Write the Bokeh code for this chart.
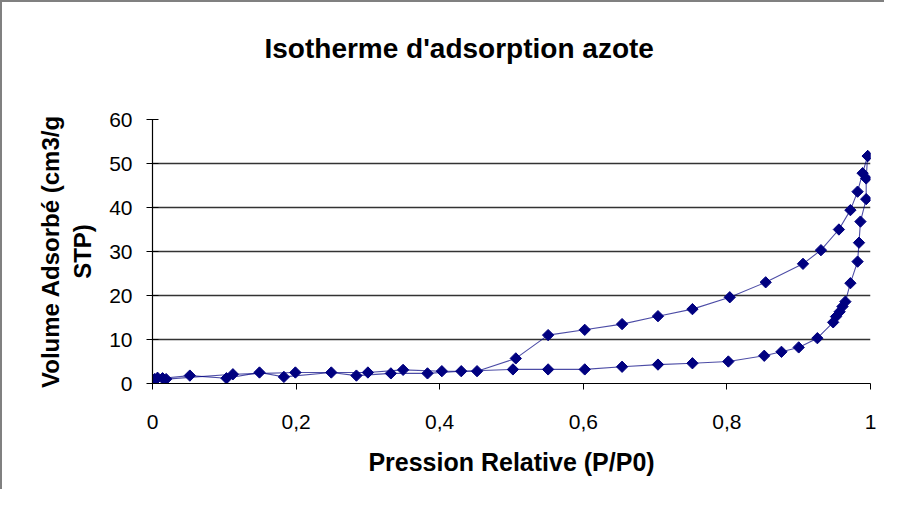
import numpy as np
from bokeh.plotting import figure
from bokeh.models import FixedTicker, Range1d
from bokeh.embed import file_html
from bokeh.resources import INLINE

# Adsorption branch (P/P0, volume cm3/g STP)
ads_p = [0.003, 0.007, 0.014, 0.052, 0.103, 0.149, 0.183, 0.249, 0.284, 0.332,
         0.383, 0.430, 0.502, 0.551, 0.602, 0.654, 0.704, 0.752, 0.802, 0.852,
         0.876, 0.900, 0.926, 0.948, 0.952, 0.957, 0.961, 0.965, 0.972, 0.982,
         0.984, 0.986, 0.994, 0.994, 0.996]
ads_v = [1.0, 1.3, 1.2, 1.8, 1.2, 2.5, 1.5, 2.5, 1.8, 2.3,
         2.3, 2.8, 3.2, 3.2, 3.2, 3.8, 4.3, 4.6, 5.0, 6.3,
         7.2, 8.2, 10.3, 13.9, 15.2, 16.3, 17.5, 18.6, 22.8, 27.7,
         32.0, 36.8, 41.9, 46.6, 51.7]

# Desorption branch
des_p = [0.996, 0.989, 0.982, 0.972, 0.956, 0.931, 0.906, 0.854, 0.804, 0.752,
         0.704, 0.654, 0.602, 0.551, 0.506, 0.452, 0.403, 0.349, 0.300, 0.199,
         0.112, 0.019]
des_v = [51.7, 47.8, 43.6, 39.4, 35.0, 30.3, 27.2, 23.0, 19.6, 16.9,
         15.3, 13.5, 12.2, 11.0, 5.7, 2.8, 2.8, 3.1, 2.5, 2.5,
         2.1, 1.0]

x_ticks = [0, 0.2, 0.4, 0.6, 0.8, 1.0]
x_tick_labels = ["0", "0,2", "0,4", "0,6", "0,8", "1"]
y_ticks = [0, 10, 20, 30, 40, 50, 60]
title_text = "Isotherme d'adsorption azote"

FONT = "Liberation Sans"
NAVY = "#000080"

p = figure(width=884, height=489, output_backend="svg", toolbar_location=None,
           x_range=Range1d(0, 1), y_range=Range1d(0, 60),
           min_border_left=152, min_border_right=14, min_border_top=119,
           min_border_bottom=106, title=title_text + "\n")
p.styles = {"box-shadow": "inset 2px 2px 0 #808080", "background-color": "white"}

p.title.text_font = FONT
p.title.text_font_size = "28px"
p.title.text_font_style = "bold"
p.title.text_color = "black"
p.title.align = "left"
p.title.offset = 112
p.title.standoff = 50

p.outline_line_color = None
p.background_fill_color = "white"
p.border_fill_color = None

p.xgrid.grid_line_color = None
p.ygrid.grid_line_color = "#333333"
p.ygrid.grid_line_width = 1.6

p.xaxis.ticker = FixedTicker(ticks=x_ticks)
p.xaxis.major_label_overrides = {t: l for t, l in zip(x_ticks, x_tick_labels)}
p.yaxis.ticker = FixedTicker(ticks=y_ticks)

for ax in (p.xaxis, p.yaxis):
    ax.axis_line_color = "black"
    ax.axis_line_width = 1.2
    ax.major_tick_line_color = "black"
    ax.minor_tick_line_color = None
    ax.major_label_text_font = FONT
    ax.major_label_text_font_size = "21px"
    ax.major_label_text_color = "black"
    ax.axis_label_text_font = FONT
    ax.axis_label_text_font_style = "bold"
    ax.axis_label_text_font_size = "24px"
    ax.axis_label_text_color = "black"

p.xaxis.axis_label_text_font_size = "25px"
p.xaxis.major_tick_in = 0
p.xaxis.major_tick_out = 6
p.xaxis.major_label_standoff = 25
p.xaxis.axis_label = "Pression Relative (P/P0)"
p.xaxis.axis_label_standoff = 16

p.yaxis.major_tick_in = 6
p.yaxis.major_tick_out = 6
p.yaxis.major_label_standoff = 14
p.yaxis.axis_label = "Volume Adsorbé (cm3/g\nSTP)"
p.yaxis.axis_label_standoff = 10

p.line(ads_p, ads_v, line_color=NAVY, line_width=1.1, line_alpha=0.7)
p.line(des_p, des_v, line_color=NAVY, line_width=1.1, line_alpha=0.7)
p.scatter(ads_p, ads_v, marker="square", angle=np.pi / 4, size=8,
          fill_color=NAVY, line_color=NAVY)
p.scatter(des_p, des_v, marker="square", angle=np.pi / 4, size=8,
          fill_color=NAVY, line_color=NAVY)

open("out.html", "w").write(file_html(p, INLINE))
